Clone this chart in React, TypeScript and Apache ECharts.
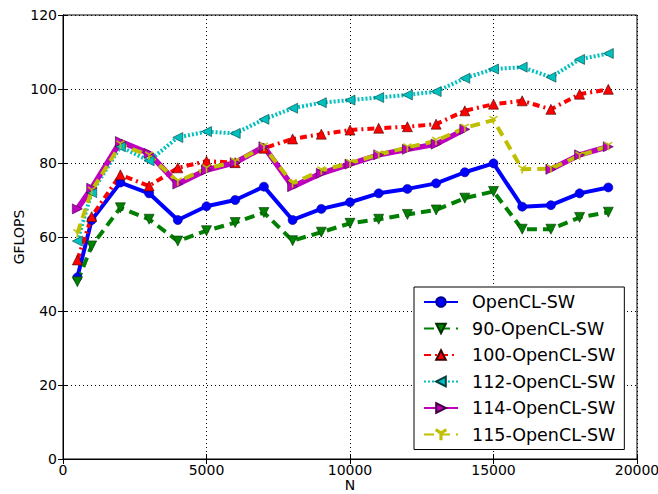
import React, { useEffect, useRef } from "react";
import * as echarts from "echarts";

const N = [500, 1000, 2000, 3000, 4000, 5000, 6000, 7000, 8000, 9000, 10000, 11000, 12000, 13000, 14000, 15000, 16000, 17000, 18000, 19000];
const openclSW = [49.1, 64.6, 74.7, 71.8, 64.6, 68.3, 70.0, 73.6, 64.6, 67.6, 69.4, 71.8, 73.0, 74.5, 77.5, 79.9, 68.2, 68.6, 71.8, 73.4];
const sw90 = [47.9, 57.6, 67.9, 64.8, 58.9, 61.7, 63.9, 66.6, 59.0, 61.3, 63.7, 64.8, 66.1, 67.3, 70.5, 72.3, 62.1, 62.1, 65.3, 66.7];
const sw100 = [53.8, 65.5, 76.8, 73.8, 78.7, 80.5, 80.1, 84.0, 86.5, 87.8, 88.9, 89.4, 89.8, 90.5, 94.1, 95.9, 96.8, 94.5, 98.6, 99.9];
const sw112 = [58.9, 72.0, 84.4, 80.6, 86.9, 88.5, 88.0, 91.8, 94.8, 96.3, 97.0, 97.7, 98.4, 99.3, 102.9, 105.4, 105.9, 103.2, 108.0, 109.6];
const sw114 = [67.6, 73.2, 85.8, 82.6, 74.3, 78.1, 80.1, 84.4, 73.6, 77.2, 79.7, 82.2, 83.7, 85.1, 89.1, null, null, 78.3, 82.2, 84.4];
const sw115 = [61.0, 72.5, 85.0, 82.0, 75.0, 78.5, 80.3, 84.4, 74.5, 78.0, 80.0, 82.3, 84.2, 86.0, 89.5, 91.6, 78.3, 78.5, 82.0, 84.6];
const seriesNames = ["OpenCL-SW", "90-OpenCL-SW", "100-OpenCL-SW", "112-OpenCL-SW", "114-OpenCL-SW", "115-OpenCL-SW"];
const xTicks = [0, 5000, 10000, 15000, 20000];
const yTicks = [0, 20, 40, 60, 80, 100, 120];

const FONT = "DejaVu Sans";

export default function App() {
  const ref = useRef<HTMLDivElement>(null);
  useEffect(() => {
    document.body.style.margin = "0";
    const chart = echarts.init(ref.current!, null, { renderer: "svg" });
    const pts = (vals: (number | null)[]) => N.map((x, i) => [x, vals[i] === null ? null : vals[i]]);
    const tickInside = { show: true, inside: true, length: 5, lineStyle: { color: "#000", width: 1 } };
    const plain = (v: number) => String(v);
    const mk = (
      name: string,
      vals: (number | null)[],
      color: string,
      lineType: any,
      width: number,
      symbol: string,
      size: number,
      edge: string
    ) => ({
      name,
      type: "line",
      data: pts(vals),
      xAxisIndex: 0,
      yAxisIndex: 0,
      symbol,
      symbolSize: size,
      showAllSymbol: true,
      connectNulls: false,
      lineStyle: { color, width, type: lineType },
      itemStyle: { color, borderColor: edge, borderWidth: 0.6 },
      emphasis: { disabled: true },
    });
    const option = {
      animation: false,
      backgroundColor: "#fff",
      textStyle: { fontFamily: FONT },
      grid: {
        left: 63, top: 15, width: 574, height: 444, show: true,
        borderColor: "#000", borderWidth: 1, backgroundColor: "transparent",
        containLabel: false, outerBoundsMode: "none",
      },
      legend: {
        orient: "vertical",
        left: 414,
        top: 287,
        itemWidth: 34,
        itemHeight: 12,
        itemGap: 8.5,
        padding: [6, 9, 6, 9],
        borderColor: "#000",
        borderWidth: 1,
        backgroundColor: "#fff",
        borderRadius: 0,
        data: seriesNames,
        textStyle: { fontFamily: FONT, fontSize: 17.5, color: "#000", lineHeight: 18, padding: [0, 0, 0, 9] },
      },
      xAxis: [
        {
          type: "value",
          min: xTicks[0],
          max: xTicks[xTicks.length - 1],
          interval: 5000,
          name: "N",
          nameLocation: "middle",
          nameGap: 19,
          nameMoveOverlap: false,
          nameTextStyle: { fontFamily: FONT, fontSize: 14, color: "#000", verticalAlign: "top", lineHeight: 14 },
          axisLine: { show: true, lineStyle: { color: "#000", width: 1 } },
          axisTick: tickInside,
          axisLabel: { fontFamily: FONT, fontSize: 14, color: "#000", margin: 4, lineHeight: 14, formatter: plain },
          splitLine: { show: true, lineStyle: { color: "#000", width: 1, type: [1, 3] } },
        },
        {
          type: "value",
          position: "top",
          min: xTicks[0],
          max: xTicks[xTicks.length - 1],
          interval: 5000,
          axisLine: { show: true, lineStyle: { color: "#000", width: 1 } },
          axisTick: tickInside,
          axisLabel: { show: false },
          splitLine: { show: false },
        },
      ],
      yAxis: [
        {
          type: "value",
          min: yTicks[0],
          max: yTicks[yTicks.length - 1],
          interval: 20,
          name: "GFLOPS",
          nameLocation: "middle",
          nameGap: 37,
          nameRotate: 90,
          nameMoveOverlap: false,
          nameTextStyle: { fontFamily: FONT, fontSize: 14, color: "#000" },
          axisLine: { show: true, lineStyle: { color: "#000", width: 1 } },
          axisTick: tickInside,
          axisLabel: { fontFamily: FONT, fontSize: 14, color: "#000", margin: 6, formatter: plain },
          splitLine: { show: true, lineStyle: { color: "#000", width: 1, type: [1, 3] } },
        },
        {
          type: "value",
          position: "right",
          min: yTicks[0],
          max: yTicks[yTicks.length - 1],
          interval: 20,
          axisLine: { show: true, lineStyle: { color: "#000", width: 1 } },
          axisTick: tickInside,
          axisLabel: { show: false },
          splitLine: { show: false },
        },
      ],
      series: [
        mk(seriesNames[0], openclSW, "#0000ff", "solid", 4, "circle", 9, "#00008b"),
        mk(seriesNames[1], sw90, "#008000", [10, 6], 4, "path://M0,0 L10,0 L5,9 Z", 10, "#003000"),
        mk(seriesNames[2], sw100, "#ff0000", [7, 4, 2, 4], 4, "path://M5,0 L10,9 L0,9 Z", 10, "#400000"),
        mk(seriesNames[3], sw112, "#00bfbf", [2, 2], 4, "path://M9,0 L0,5 L9,10 Z", 10, "#004040"),
        mk(seriesNames[4], sw114, "#bf00bf", "solid", 5.5, "path://M0,0 L9,5 L0,10 Z", 10, "#400040"),
        mk(seriesNames[5], sw115, "#bfbf00", [10, 6], 4, "path://M4.4,4 L4.4,10 L5.6,10 L5.6,4 L10,1.4 L9.4,0.4 L5,3 L0.6,0.4 L0,1.4 Z", 8, "#bfbf00"),
      ],
    };
    chart.setOption(option as any);
    return () => chart.dispose();
  }, []);
  return <div ref={ref} style={{ width: 658, height: 494 }} />;
}
